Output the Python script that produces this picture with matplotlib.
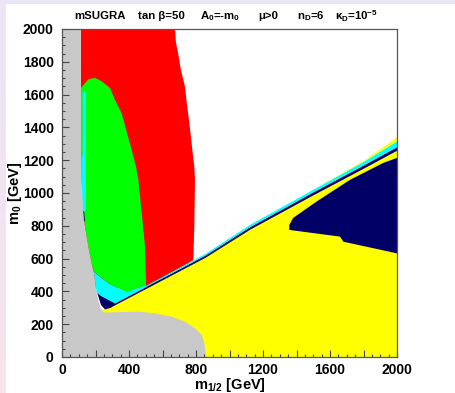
import numpy as np
import matplotlib
matplotlib.use("Agg")
import matplotlib.pyplot as plt
from matplotlib.patches import Rectangle
from matplotlib.ticker import MultipleLocator

plt.rcParams['font.family'] = ['Liberation Sans', 'DejaVu Sans']
plt.rcParams['mathtext.fontset'] = 'custom'
plt.rcParams['mathtext.rm'] = 'Liberation Sans:bold'
plt.rcParams['mathtext.it'] = 'Liberation Sans:bold'
plt.rcParams['mathtext.bf'] = 'Liberation Sans:bold'
plt.rcParams['mathtext.sf'] = 'Liberation Sans:bold'

# ---------------- data: region boundaries in (m1/2, m0) [GeV] ----------------
gray_m12 = [0, 0, 112, 112, 117, 123, 131, 147, 165, 181, 190, 207, 227, 240, 247,
            455, 555, 655, 734, 794, 834, 850, 860]
gray_m0 = [0, 2000, 2000, 1250, 1080, 958, 836, 734, 630, 551, 520, 389, 307, 285, 271,
           277, 266, 246, 215, 175, 134, 83, 0]

red_m12 = [112, 675, 680, 693, 710, 734, 746, 758, 770, 780, 790, 794, 790, 784, 500, 112]
red_m0 = [2000, 2000, 1920, 1854, 1750, 1649, 1540, 1446, 1340, 1244, 1160, 1080, 800,
          590, 420, 420]

green_m12 = [112, 157, 197, 237, 287, 316, 356, 386, 416, 442, 456, 476, 496, 501, 501,
             386, 277, 193, 181, 165, 147, 131, 123, 117, 112]
green_m0 = [1639, 1693, 1702, 1681, 1639, 1568, 1486, 1374, 1263, 1161, 1080, 876, 673,
            470, 440, 395, 449, 520, 551, 630, 734, 836, 958, 1080, 1250]

cyan_patch_m12 = [190, 277, 386, 501, 501, 290, 207]
cyan_patch_m0 = [520, 449, 395, 440, 425, 315, 389]

cyan_strip_m12 = [123, 143, 143, 135, 117, 117, 123]
cyan_strip_m0 = [1618, 1618, 900, 880, 900, 1220, 1230]

navy_small_m12 = [117, 132, 137, 121]
navy_small_m0 = [890, 890, 826, 826]

navy_blob_m12 = [211, 235, 316, 290, 257, 233]
navy_blob_m0 = [389, 370, 327, 300, 290, 317]

# lower edge of the thin navy/cyan band along the diagonal
line_m12 = [280, 500, 854, 1122, 1500, 1800, 2000]
line_m0 = [300, 418, 608, 780, 990, 1152, 1262]
navy_w = [12, 12, 14, 16, 18, 20, 22]
cyan_w = [6, 8, 10, 14, 16, 22, 36]
ytop_w = [0, 0, 0, 0, 0, 6, 24]

yellow_m12 = [240, 280] + line_m12[1:] + [2000, 240]
yellow_m0 = [285, 300] + line_m0[1:] + [0, 0]

navy_big_m12 = [1357, 1380, 1520, 1719, 1917, 2000, 2000, 1680, 1660, 1357]
navy_big_m0 = [805, 848, 948, 1080, 1183, 1214, 632, 703, 734, 775]

RED = '#ff0000'
GREEN = '#00ff00'
CYAN = '#00ffff'
NAVY = '#000066'
YELLOW = '#ffff00'
GRAY = '#c8c8c8'

# ---------------- figure ----------------
W, H = 455, 393
fig = plt.figure(figsize=(W / 100, H / 100), dpi=100)
fig.patch.set_facecolor('#ebe6f5')
fig.add_artist(Rectangle((6 / W, 0), 1 - 6 / W, (H - 4) / H, transform=fig.transFigure,
                         facecolor='white', edgecolor='none', zorder=-10))
axs = fig.add_axes([0, 0, 6 / W, 1], zorder=-5)
grad = np.linspace(0, 1, 100)[:, None]
c1 = np.array([235, 230, 245]) / 255
c2 = np.array([248, 228, 236]) / 255
img = (1 - grad)[:, :, None] * c1 + grad[:, :, None] * c2
axs.imshow(img, aspect='auto', extent=[0, 1, 0, 1])
axs.axis('off')

ax = fig.add_axes([62 / W, (H - 357) / H, (397 - 62) / W, (357 - 29) / H])
ax.set_xlim(0, 2000)
ax.set_ylim(0, 2000)

kw = dict(edgecolor='none', linewidth=0)
ax.fill(yellow_m12, yellow_m0, color=YELLOW, **kw)
ax.fill(navy_big_m12, navy_big_m0, color=NAVY, **kw)
ax.fill(red_m12, red_m0, color=RED, **kw)
ax.fill(cyan_patch_m12, cyan_patch_m0, color=CYAN, **kw)
ax.fill(green_m12, green_m0, color=GREEN, **kw)
ax.fill(cyan_strip_m12, cyan_strip_m0, color=CYAN, **kw)
ax.fill(navy_small_m12, navy_small_m0, color=NAVY, **kw)
ax.fill(gray_m12, gray_m0, color=GRAY, **kw)

lm = np.array(line_m0, dtype=float)
n_top = lm + np.array(navy_w)
c_top = n_top + np.array(cyan_w)
y_top = c_top + np.array(ytop_w)
ax.fill_between(line_m12, lm, n_top, color=NAVY, linewidth=0)
ax.fill_between(line_m12, n_top, c_top, color=CYAN, linewidth=0)
ax.fill_between(line_m12, c_top, y_top, color=YELLOW, linewidth=0)
ax.fill(navy_blob_m12, navy_blob_m0, color=NAVY, **kw)

# axes styling
for s in ['top', 'right', 'left', 'bottom']:
    ax.spines[s].set_color('#555555')
    ax.spines[s].set_linewidth(0.9)
    ax.spines[s].set_zorder(5)
ax.xaxis.set_major_locator(MultipleLocator(200))
ax.xaxis.set_minor_locator(MultipleLocator(50))
ax.yaxis.set_major_locator(MultipleLocator(200))
ax.yaxis.set_minor_locator(MultipleLocator(50))
ax.tick_params(which='both', direction='in', top=False, right=False, color='#444444',
               width=0.8)
ax.tick_params(which='major', length=5)
ax.tick_params(which='minor', length=2.5)
ax.tick_params(axis='y', which='major', pad=6, labelsize=10)
ax.tick_params(axis='x', which='major', pad=4, labelsize=10)
xt = np.arange(0, 2001, 200)
ax.set_xticks(xt)
ax.set_xticklabels([str(v) if v % 400 == 0 else '' for v in xt], fontweight='bold')
ax.set_yticklabels([str(int(v)) for v in ax.get_yticks()], fontweight='bold')

xl = ax.set_xlabel('m$_{1/2}$ [GeV]', fontsize=10.5, fontweight='bold')
xl.set_va('center')
ax.xaxis.set_label_coords(0.5, (357 - 385.5) / 328)
yl = ax.set_ylabel('m$_0$ [GeV]', fontsize=10.5, fontweight='bold')
yl.set_va('center')
ax.yaxis.set_label_coords((15 - 62) / 335, 0.5)

# header
hy = 1 - 16 / H
items = [(74, 'mSUGRA'), (138, 'tan β=50'), (200, 'A$_0$=-m$_0$'), (258, 'μ>0'),
         (297, 'n$_D$=6'), (335, 'κ$_D$=10$^{-5}$')]
for x, t in items:
    fig.text(x / W, hy, t, fontsize=8.2, fontweight='bold', ha='left', va='center')

fig.savefig('out.png', dpi=100, facecolor=fig.get_facecolor())
